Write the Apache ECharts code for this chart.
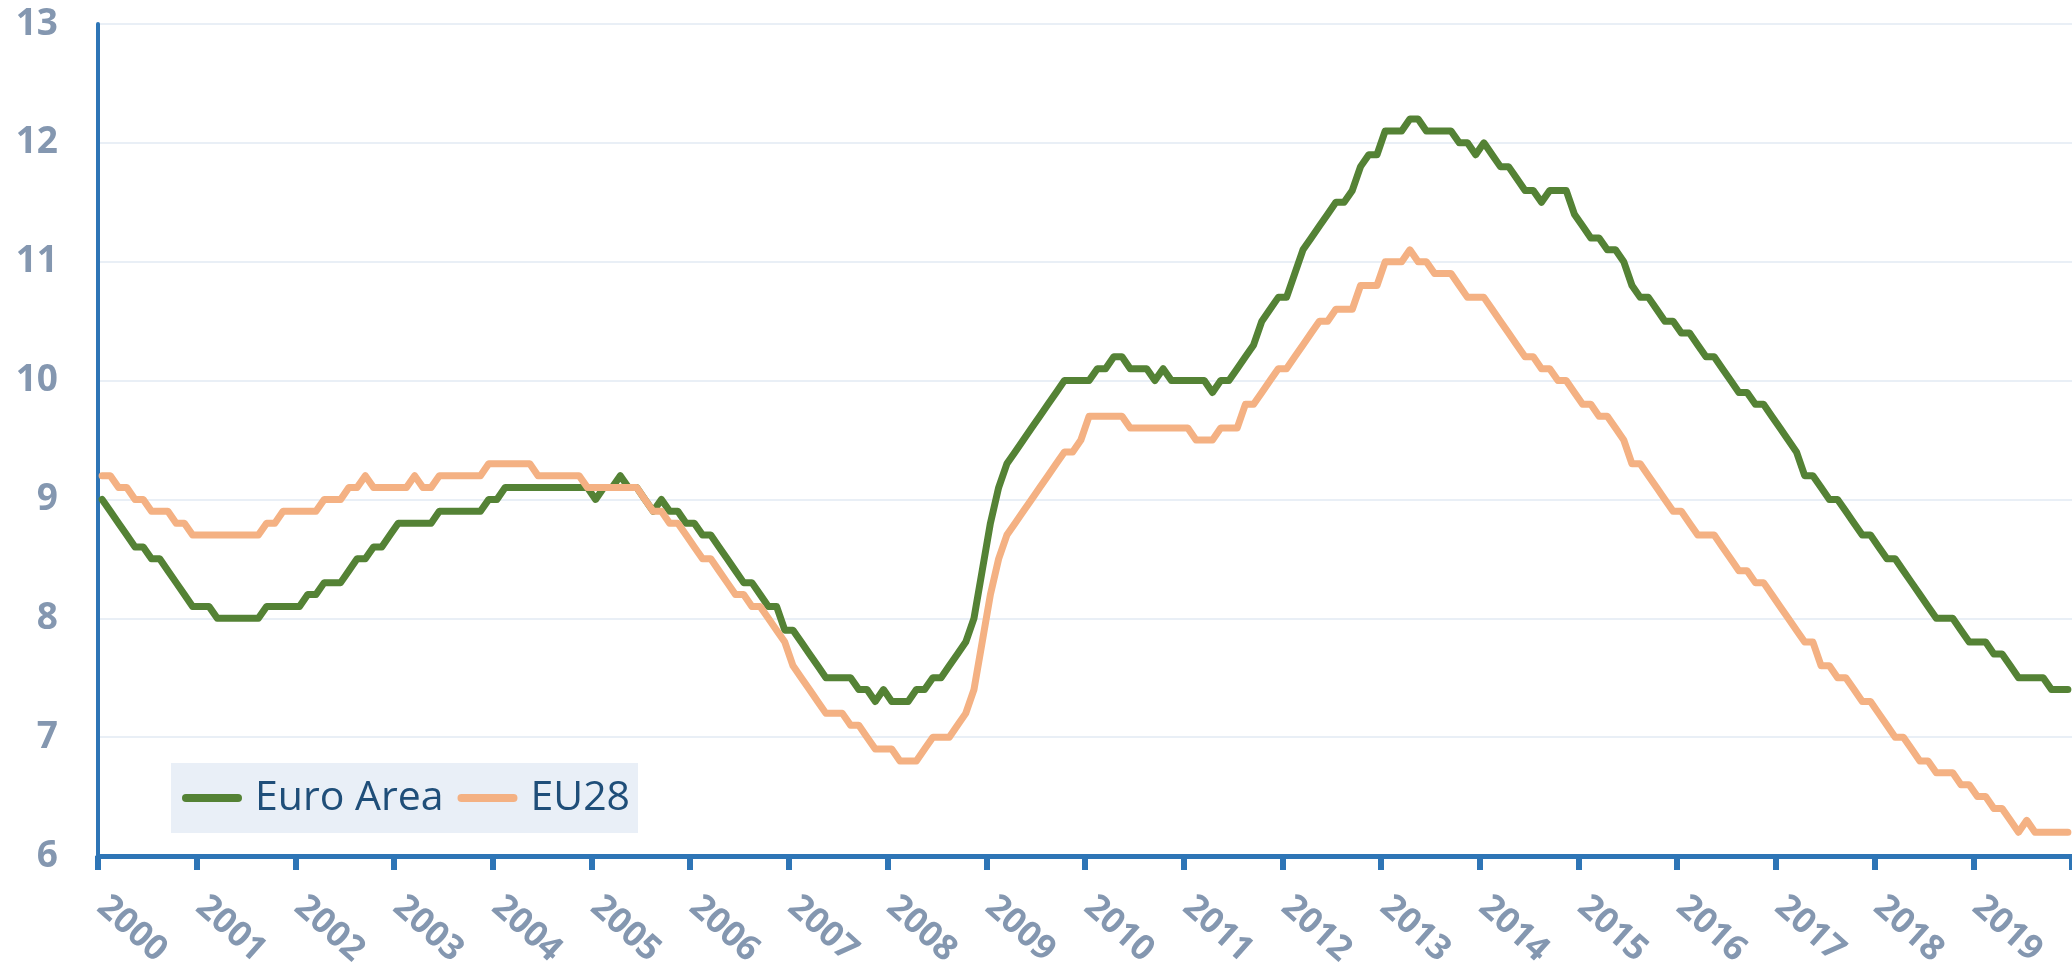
<!DOCTYPE html>
<html>
<head>
<meta charset="utf-8">
<title>Unemployment rate - Euro Area and EU28</title>
<script src="https://cdn.jsdelivr.net/npm/echarts@6/dist/echarts.min.js"></script>
<style>
  html, body { margin: 0; padding: 0; background: #ffffff; }
  #chart { width: 2072px; height: 974px; }
</style>
</head>
<body>
<div id="chart"></div>
<script>
// monthly unemployment rate (%), one row per year, Jan..Dec
var years = [2000, 2001, 2002, 2003, 2004, 2005, 2006, 2007, 2008, 2009,
             2010, 2011, 2012, 2013, 2014, 2015, 2016, 2017, 2018, 2019];

var euroArea = [
  9.0, 8.9, 8.8, 8.7, 8.6, 8.6, 8.5, 8.5, 8.4, 8.3, 8.2, 8.1,
  8.1, 8.1, 8.0, 8.0, 8.0, 8.0, 8.0, 8.0, 8.1, 8.1, 8.1, 8.1,
  8.1, 8.2, 8.2, 8.3, 8.3, 8.3, 8.4, 8.5, 8.5, 8.6, 8.6, 8.7,
  8.8, 8.8, 8.8, 8.8, 8.8, 8.9, 8.9, 8.9, 8.9, 8.9, 8.9, 9.0,
  9.0, 9.1, 9.1, 9.1, 9.1, 9.1, 9.1, 9.1, 9.1, 9.1, 9.1, 9.1,
  9.0, 9.1, 9.1, 9.2, 9.1, 9.1, 9.0, 8.9, 9.0, 8.9, 8.9, 8.8,
  8.8, 8.7, 8.7, 8.6, 8.5, 8.4, 8.3, 8.3, 8.2, 8.1, 8.1, 7.9,
  7.9, 7.8, 7.7, 7.6, 7.5, 7.5, 7.5, 7.5, 7.4, 7.4, 7.3, 7.4,
  7.3, 7.3, 7.3, 7.4, 7.4, 7.5, 7.5, 7.6, 7.7, 7.8, 8.0, 8.4,
  8.8, 9.1, 9.3, 9.4, 9.5, 9.6, 9.7, 9.8, 9.9, 10.0, 10.0, 10.0,
  10.0, 10.1, 10.1, 10.2, 10.2, 10.1, 10.1, 10.1, 10.0, 10.1, 10.0, 10.0,
  10.0, 10.0, 10.0, 9.9, 10.0, 10.0, 10.1, 10.2, 10.3, 10.5, 10.6, 10.7,
  10.7, 10.9, 11.1, 11.2, 11.3, 11.4, 11.5, 11.5, 11.6, 11.8, 11.9, 11.9,
  12.1, 12.1, 12.1, 12.2, 12.2, 12.1, 12.1, 12.1, 12.1, 12.0, 12.0, 11.9,
  12.0, 11.9, 11.8, 11.8, 11.7, 11.6, 11.6, 11.5, 11.6, 11.6, 11.6, 11.4,
  11.3, 11.2, 11.2, 11.1, 11.1, 11.0, 10.8, 10.7, 10.7, 10.6, 10.5, 10.5,
  10.4, 10.4, 10.3, 10.2, 10.2, 10.1, 10.0, 9.9, 9.9, 9.8, 9.8, 9.7,
  9.6, 9.5, 9.4, 9.2, 9.2, 9.1, 9.0, 9.0, 8.9, 8.8, 8.7, 8.7,
  8.6, 8.5, 8.5, 8.4, 8.3, 8.2, 8.1, 8.0, 8.0, 8.0, 7.9, 7.8,
  7.8, 7.8, 7.7, 7.7, 7.6, 7.5, 7.5, 7.5, 7.5, 7.4, 7.4, 7.4
];

var eu28 = [
  9.2, 9.2, 9.1, 9.1, 9.0, 9.0, 8.9, 8.9, 8.9, 8.8, 8.8, 8.7,
  8.7, 8.7, 8.7, 8.7, 8.7, 8.7, 8.7, 8.7, 8.8, 8.8, 8.9, 8.9,
  8.9, 8.9, 8.9, 9.0, 9.0, 9.0, 9.1, 9.1, 9.2, 9.1, 9.1, 9.1,
  9.1, 9.1, 9.2, 9.1, 9.1, 9.2, 9.2, 9.2, 9.2, 9.2, 9.2, 9.3,
  9.3, 9.3, 9.3, 9.3, 9.3, 9.2, 9.2, 9.2, 9.2, 9.2, 9.2, 9.1,
  9.1, 9.1, 9.1, 9.1, 9.1, 9.1, 9.0, 8.9, 8.9, 8.8, 8.8, 8.7,
  8.6, 8.5, 8.5, 8.4, 8.3, 8.2, 8.2, 8.1, 8.1, 8.0, 7.9, 7.8,
  7.6, 7.5, 7.4, 7.3, 7.2, 7.2, 7.2, 7.1, 7.1, 7.0, 6.9, 6.9,
  6.9, 6.8, 6.8, 6.8, 6.9, 7.0, 7.0, 7.0, 7.1, 7.2, 7.4, 7.8,
  8.2, 8.5, 8.7, 8.8, 8.9, 9.0, 9.1, 9.2, 9.3, 9.4, 9.4, 9.5,
  9.7, 9.7, 9.7, 9.7, 9.7, 9.6, 9.6, 9.6, 9.6, 9.6, 9.6, 9.6,
  9.6, 9.5, 9.5, 9.5, 9.6, 9.6, 9.6, 9.8, 9.8, 9.9, 10.0, 10.1,
  10.1, 10.2, 10.3, 10.4, 10.5, 10.5, 10.6, 10.6, 10.6, 10.8, 10.8, 10.8,
  11.0, 11.0, 11.0, 11.1, 11.0, 11.0, 10.9, 10.9, 10.9, 10.8, 10.7, 10.7,
  10.7, 10.6, 10.5, 10.4, 10.3, 10.2, 10.2, 10.1, 10.1, 10.0, 10.0, 9.9,
  9.8, 9.8, 9.7, 9.7, 9.6, 9.5, 9.3, 9.3, 9.2, 9.1, 9.0, 8.9,
  8.9, 8.8, 8.7, 8.7, 8.7, 8.6, 8.5, 8.4, 8.4, 8.3, 8.3, 8.2,
  8.1, 8.0, 7.9, 7.8, 7.8, 7.6, 7.6, 7.5, 7.5, 7.4, 7.3, 7.3,
  7.2, 7.1, 7.0, 7.0, 6.9, 6.8, 6.8, 6.7, 6.7, 6.7, 6.6, 6.6,
  6.5, 6.5, 6.4, 6.4, 6.3, 6.2, 6.3, 6.2, 6.2, 6.2, 6.2, 6.2
];

var seriesNames = ['Euro Area', 'EU28'];
var seriesColors = ['#548235', '#F4B183'];

// one category per month, labelled by year on each January
var months = [];
years.forEach(function (y) {
    for (var i = 1; i <= 12; i++) {
        months.push(y + '-' + (i < 10 ? '0' + i : '' + i));
    }
});

var labelColor = '#8497B0';
var axisBlue = '#2E75B6';
var legendIcon = 'path://M4,0H56A4,4,0,0,1,56,8H4A4,4,0,0,1,4,0Z';

var mChart = echarts.init(document.getElementById('chart'));

mChart.setOption({
    animation: false,
    backgroundColor: '#ffffff',
    grid: { left: 98, right: 0, top: 24, bottom: 118 },
    legend: {
        left: 171,
        top: 763,
        orient: 'horizontal',
        backgroundColor: '#E9EFF7',
        padding: [10, 8, 10, 11],
        itemWidth: 60,
        itemHeight: 8,
        itemGap: 14,
        data: [
            { name: seriesNames[0], icon: legendIcon },
            { name: seriesNames[1], icon: legendIcon }
        ],
        textStyle: {
            fontFamily: 'Open Sans',
            fontSize: 41,
            lineHeight: 50,
            color: '#1F4E79',
            padding: [0, 0, 0, 8]
        }
    },
    xAxis: {
        type: 'category',
        data: months,
        boundaryGap: true,
        axisLine: { show: true, lineStyle: { color: axisBlue, width: 5 } },
        axisTick: {
            show: true,
            interval: 11,
            alignWithLabel: false,
            length: 14,
            lineStyle: { color: axisBlue, width: 6 }
        },
        axisLabel: {
            interval: 11,
            rotate: -42,
            margin: 46,
            color: labelColor,
            fontFamily: 'Open Sans',
            fontWeight: 'bold',
            fontSize: 35,
            formatter: function (v) { return v.slice(0, 4); }
        },
        splitLine: { show: false }
    },
    yAxis: {
        type: 'value',
        min: 6,
        max: 13,
        interval: 1,
        axisLine: { show: true, lineStyle: { color: axisBlue, width: 4 } },
        axisTick: { show: false },
        axisLabel: {
            margin: 40,
            color: labelColor,
            fontFamily: 'Open Sans',
            fontWeight: 'bold',
            fontSize: 37
        },
        splitLine: { lineStyle: { color: '#E9EFF6', width: 2 } }
    },
    series: [
        {
            name: seriesNames[0],
            type: 'line',
            data: euroArea,
            showSymbol: false,
            symbol: 'none',
            color: seriesColors[0],
            lineStyle: { width: 7, color: seriesColors[0], cap: 'round', join: 'round' }
        },
        {
            name: seriesNames[1],
            type: 'line',
            data: eu28,
            showSymbol: false,
            symbol: 'none',
            color: seriesColors[1],
            lineStyle: { width: 7, color: seriesColors[1], cap: 'round', join: 'round' }
        }
    ]
});
</script>
</body>
</html>
